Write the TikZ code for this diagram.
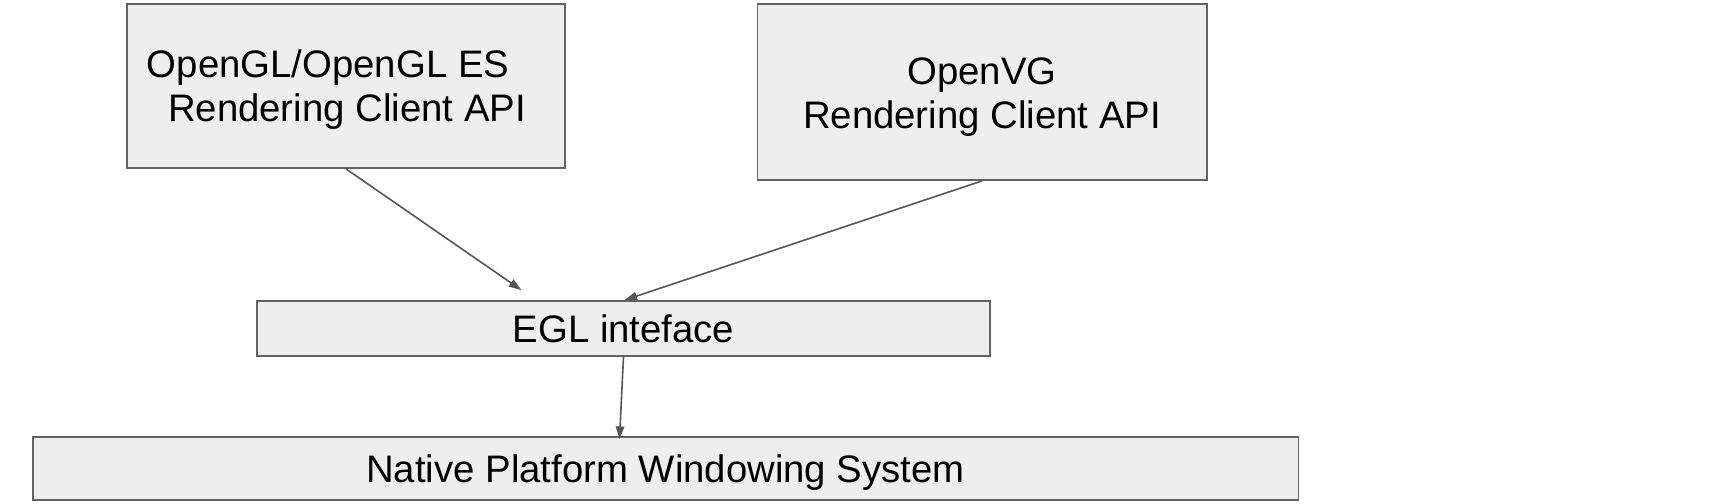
\documentclass[tikz,border=0pt]{standalone}
\usepackage{fontspec}
\setmainfont{Liberation Sans}
\usetikzlibrary{arrows.meta, positioning}
\definecolor{BoxFill}{HTML}{EEEEEE}
\definecolor{BoxLine}{HTML}{636363}
\definecolor{ArrLine}{HTML}{555555}
% lower a line of text without changing its box
\newcommand{\lowtext}[2]{\raisebox{-#1}[\height][\depth]{#2}}

\begin{document}
\begin{tikzpicture}[
    x=0.01cm, y=-0.01cm,
    layer/.style={
        draw=BoxLine, fill=BoxFill, line width=0.5pt, inner sep=0pt,
        font=\fontsize{10.9}{12.5}\selectfont
    },
    arr/.style={-{Triangle[length=3.6pt, width=2.4pt]}, draw=ArrLine, line width=0.45pt}
]
\useasboundingbox (0,0) rectangle (1734,504);

% =============================================
% ROW 1: Rendering client APIs
% =============================================
\node[layer, minimum width=4.38cm, minimum height=1.64cm, align=left] (gl) at (346,86)
    {\lowtext{1.1pt}{OpenGL/OpenGL ES}\\
     \hspace*{0.55em}\lowtext{1.1pt}{Rendering Client API}\hspace*{0.19cm}};
\node[layer, minimum width=4.49cm, minimum height=1.76cm, align=center] (vg) at (982,92)
    {\lowtext{1.42pt}{OpenVG}\\\lowtext{1.42pt}{Rendering Client API}};

% =============================================
% ROW 2: EGL
% =============================================
\node[layer, minimum width=7.33cm, minimum height=0.55cm] (egl) at (623.5,328.5) {EGL inteface};

\draw[arr] (gl.south) -- ([xshift=-1.02cm, yshift=0.1cm]egl.north);
\draw[arr] (vg.south) -- ([xshift=0.01cm]egl.north);

% =============================================
% ROW 3: Native windowing
% =============================================
\node[layer, minimum width=12.65cm, minimum height=0.63cm] (native) at (665.5,468.5)
    {\lowtext{1.22pt}{Native Platform Windowing System}};

\draw[arr] (egl.south) -- ([xshift=-0.46cm, yshift=-0.03cm]native.north);

\end{tikzpicture}
\end{document}
